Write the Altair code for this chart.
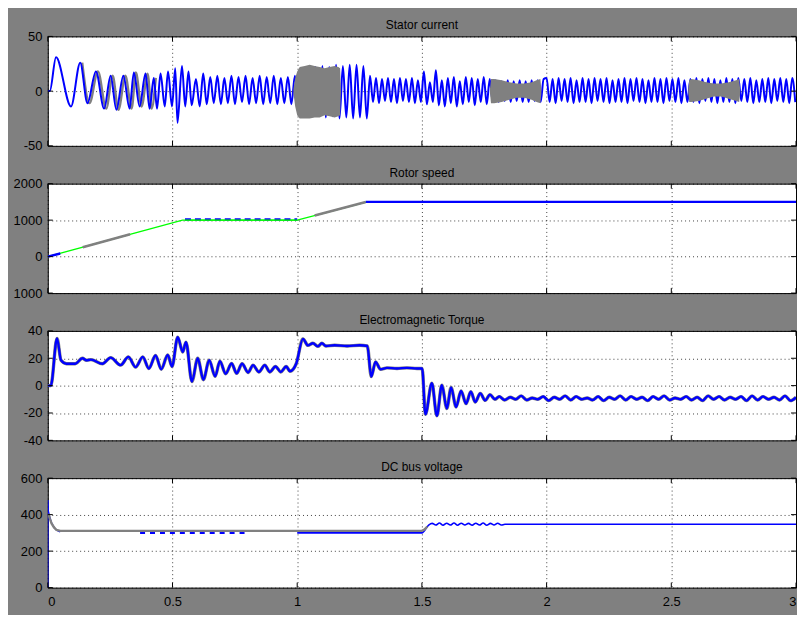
import altair as alt
import numpy as np
import pandas as pd

# ---------------- axes ----------------
X_TICKS = [0, 0.5, 1, 1.5, 2, 2.5, 3]
TITLES = ["Stator current", "Rotor speed", "Electromagnetic Torque", "DC bus voltage"]
YT_I = [-50, 0, 50]
YT_W = [-1000, 0, 1000, 2000]
YT_T = [-40, -20, 0, 20, 40]
YT_V = [0, 200, 400, 600]

# ---------------- stator current ----------------
# start-up: extremum times and values
IA_T = [0, 0.008, 0.033, 0.093, 0.130, 0.159, 0.193, 0.226, 0.252, 0.275, 0.303, 0.328, 0.345, 0.368,
        0.392, 0.408, 0.425, 0.438, 0.452, 0.469, 0.482, 0.498, 0.511, 0.52, 0.538, 0.551, 0.564, 0.577, 0.594]
IA_V = [0, 0, 31, -14, 26, -11, 18, -16, 14, -17, 14, -16, 17, -14, 16, -16, 12, -16, 16, -14,
        18, -14, 21, -29, 23, -14, 18, -13, 11]
# later sections: time span of the extrema, then the extremum values
IC_SPAN = (0.609, 1.005)
IC_V = [-14, 16, -12, 13, -11, 14, -12, 12, -11, 14, -12, 13, -10, 14, -12, 12, -11, 14, -12, 13,
        -11, 14, -12, 12, -11, 13, -12, 14, -12]
ID_SPAN = (1.019, 1.279)
ID_V = [18, -16, 21, -20, 22, -22, 23, -24, 22, -23, 24, -25, 23, -24, 24, -25, 24, -24, 23, -25]
IE_SPAN = (1.292, 1.496)
IE_V = [14, -10, 12, -11, 11, -9, 12, -10, 11, -11, 12, -9, 11, -10, 12, -11, 10, -10]
IF_SPAN = (1.508, 1.784)
IF_V = [18, -12, 8, -10, 19, -13, 10, -14, 12, -11, 13, -14, 9, -12, 13, -10, 12, -13, 11, -10,
        13, -12, 11, -10]
IG_SPAN = (1.796, 1.988)
IG_V = [10, -10, 9, -9, 10, -10, 9, -9, 10, -10, 9, -10, 10, -9, 10, -10, 11]
IH_SPAN = (2.0, 2.997)
IH_V = [12, -10, 11, -11, 12, -9, 11, -10, 12, -11,
        10, -10, 12, -10, 11, -11, 12, -9, 11, -10,
        12, -11, 10, -10, 11, -10, 12, -11, 11, -9,
        12, -10, 11, -11, 10, -10, 12, -10, 11, -11,
        12, -9, 11, -10, 12, -11, 10, -10, 11, -10,
        12, -11, 11, -9, 12, -10, 11, -11, 10, -10,
        12, -10, 11, -11, 12, -9, 11, -10, 12, -11,
        10, -10, 11, -10, 12, -11, 11, -9, 12, -10,
        11, -11, 12, -10]
# gray bands (second trace) : times, upper and lower envelope
G1_T = [0.985, 0.992, 1.0, 1.01, 1.03, 1.05, 1.07, 1.09, 1.11, 1.13, 1.15, 1.165, 1.172, 1.175]
G1_HI = [2, 12, 18, 22, 23, 24, 23, 22, 21, 22, 23, 22, 21, 2]
G1_LO = [-2, -14, -22, -25, -25, -25, -24, -24, -22, -23, -24, -23, -22, -2]
G2_T = [1.773, 1.777, 1.79, 1.82, 1.85, 1.88, 1.91, 1.94, 1.96, 1.975, 1.979]
G2_HI = [2, 11, 11, 10, 8, 7, 7, 8, 10, 11, 2]
G2_LO = [-2, -11, -11, -10, -8, -6, -6, -8, -10, -11, -2]
G3_T = [2.568, 2.572, 2.58, 2.61, 2.64, 2.67, 2.70, 2.73, 2.76, 2.772, 2.776]
G3_HI = [2, 10, 11, 10, 8, 7, 7, 8, 10, 11, 2]
G3_LO = [-2, -10, -10, -9, -7, -5, -5, -7, -9, -10, -2]

# ---------------- rotor speed ----------------
WR_T = [0, 0.54, 1.0, 1.28, 3.0]
WR_V = [0, 1000, 1000, 1500, 1500]
WA1_T = [0, 0.05]
WA1_V = [0, 85]
WA2_T = [0.55, 1.0]
WA2_V = [1020, 1020]
WA3_T = [1.275, 3.0]
WA3_V = [1500, 1500]
WG1_T = [0.14, 0.33]
WG1_V = [259, 611]
WG2_T = [1.07, 1.275]
WG2_V = [1125, 1500]

# ---------------- torque ----------------
TE_T = [0, 0.012, 0.037, 0.053, 0.075, 0.11, 0.139, 0.155, 0.173, 0.219, 0.252, 0.292, 0.323, 0.352,
        0.381, 0.405, 0.432, 0.455, 0.481, 0.498, 0.521, 0.541, 0.554, 0.578, 0.601, 0.624, 0.647,
        0.671, 0.690, 0.713, 0.737, 0.757, 0.779, 0.803, 0.823, 0.846, 0.870, 0.890, 0.913, 0.934,
        0.956, 0.971, 0.996, 1.023, 1.043, 1.063, 1.083, 1.099, 1.115, 1.15, 1.2, 1.25, 1.281,
        1.297, 1.314, 1.334, 1.36, 1.40, 1.44, 1.48, 1.501, 1.514, 1.54, 1.56, 1.58, 1.60, 1.617,
        1.637, 1.657, 1.677, 1.696, 1.714, 1.734, 1.754, 1.773, 1.793]
TE_V = [0, 0, 34.5, 18.5, 16, 16, 20, 18.5, 19, 16, 20.5, 15, 21, 13.5,
        21, 12.5, 22, 12, 22.5, 14, 35.4, 24.6, 31.8, 3, 20, 4.3, 18.6,
        6.8, 17.9, 8.7, 16.2, 9.0, 16, 9.6, 15, 10, 15, 10, 14, 10,
        14, 10.5, 16, 34.2, 29.4, 31, 28.7, 31, 29, 29.5, 29, 29.5, 29,
        6.6, 17.4, 12, 13, 12.5, 13, 12.5, 12.6, -21, 1.8, -22, 0.3, -16.7, -1.4,
        -15.6, -3.8, -13.2, -4.5, -12, -5.7, -10.8, -6.6, -10]
TR_SPAN = (1.81, 3.0)
TR_V = [-8, -10.5, -8.5, -10, -7.5, -10.5, -9, -10, -8, -11, -8.5, -10, -7.5, -10.5, -8, -10, -9,
        -10.5, -8, -11, -8.5, -10, -7.5, -10.5, -8, -10, -8.5, -11, -8, -10, -7.5, -10.5, -9, -10,
        -8, -10.5, -8.5, -11, -7.5, -10, -8, -10.5, -8.5, -10, -8, -11, -7.5, -10.5, -8, -10, -8.5,
        -10.5, -7.5, -11, -8.5]

# ---------------- DC bus ----------------
VB1_T = [0, 0.0005, 0.002, 0.008, 0.015, 0.025, 0.035, 0.05]
VB1_V = [0, 480, 420, 385, 355, 330, 315, 305]
VB2_T = [0.37, 0.80]          # dashed visible part
VB2_V = [300, 300]
VB3_T = [1.0, 1.5, 1.527]
VB3_V = [300, 300, 343]
VR_SPAN = (1.541, 1.833)
VR_V = [352, 343, 354, 342, 353, 343, 354, 342, 353, 343, 352, 342, 353, 343, 354, 342, 352, 343,
        353, 343, 347]
VB4_T = [1.833, 3.0]
VB4_V = [347, 347]
VG_T = [0.003, 0.008, 0.015, 0.025, 0.035, 0.05, 1.5, 1.51, 1.522]
VG_V = [405, 380, 352, 330, 316, 311, 311, 318, 335]

# ---------------- building ----------------
BLUE = "#0000ff"
GRAY = "#808080"
GREEN = "#00ff00"
W, H = 752, 110


def df_of(ts, vs, part="a"):
    return pd.DataFrame({"t": list(ts), "v": list(vs), "part": part, "i": range(len(ts))})


def zig(span, vals, part):
    ts = np.linspace(span[0], span[1], len(vals))
    return df_of(ts, vals, part)


def X(bottom):
    ax = alt.Axis(values=X_TICKS, grid=True, labels=bottom, ticks=False, domain=False, title=None,
                  labelExpr="toString(datum.value)", labelPadding=8, labelFlush=True)
    return alt.X("t:Q", scale=alt.Scale(domain=[0, 3], nice=False, zero=False), axis=ax)


def Y(ticks, dom, expr="toString(datum.value)", field="v"):
    ax = alt.Axis(values=ticks, grid=True, ticks=False, domain=False, title=None,
                  labelPadding=6, labelExpr=expr)
    return alt.Y(field + ":Q", scale=alt.Scale(domain=dom, nice=False, zero=False), axis=ax)


def line(df, color, width, x, y, dash=None, interp="linear"):
    kw = dict(color=color, strokeWidth=width, clip=True, interpolate=interp)
    if dash is not None:
        kw["strokeDash"] = dash
    return alt.Chart(df).mark_line(**kw).encode(x=x, y=y, detail="part:N", order="i:Q")


def tick_layers(x, y, yticks):
    xt = pd.DataFrame({"t": X_TICKS})
    yt = pd.DataFrame({"v": yticks})
    return [
        alt.Chart(xt).mark_rule(color="black").encode(x=x, y=alt.value(0), y2=alt.value(5)),
        alt.Chart(xt).mark_rule(color="black").encode(x=x, y=alt.value(H - 5), y2=alt.value(H)),
        alt.Chart(yt).mark_rule(color="black").encode(y=y, x=alt.value(0), x2=alt.value(5)),
        alt.Chart(yt).mark_rule(color="black").encode(y=y, x=alt.value(W - 5), x2=alt.value(W)),
    ]


def band(ts, hi, lo, x, yticks, dom):
    d = pd.DataFrame({"t": ts, "lo": lo, "hi": hi})
    return alt.Chart(d).mark_area(color=GRAY, clip=True, opacity=1).encode(
        x=x, y=Y(yticks, dom, field="lo"), y2="hi:Q")


def titled(layers, title):
    return alt.layer(*layers).properties(
        width=W, height=H,
        title=alt.TitleParams(text=title, fontSize=12, fontWeight="normal", font="Liberation Sans",
                              color="black", anchor="middle", offset=-2))


# panel 1
x1 = X(False)
y1 = Y(YT_I, [-50, 50])
steady = pd.concat([zig(IC_SPAN, IC_V, "c"), zig(ID_SPAN, ID_V, "d"),
                    zig(IE_SPAN, IE_V, "e"), zig(IF_SPAN, IF_V, "f"), zig(IG_SPAN, IG_V, "g"),
                    zig(IH_SPAN, IH_V, "h")], ignore_index=True)
current = pd.concat([df_of(IA_T, IA_V, "a"), steady], ignore_index=True)
current["part"] = "all"
current["i"] = range(len(current))
shadow = df_of([t + 0.008 for t in IA_T if 0.12 <= t <= 0.43],
               [v for t, v in zip(IA_T, IA_V) if 0.12 <= t <= 0.43], "s")
p1 = titled([
    line(shadow, GRAY, 2.4, x1, y1, interp="monotone"),
    line(current, BLUE, 2.0, x1, y1, interp="monotone"),
    band(G1_T, G1_HI, G1_LO, x1, YT_I, [-50, 50]),
    band(G2_T, G2_HI, G2_LO, x1, YT_I, [-50, 50]),
    band(G3_T, G3_HI, G3_LO, x1, YT_I, [-50, 50]),
] + tick_layers(x1, y1, YT_I), TITLES[0])

# panel 2
x2 = X(False)
y2 = Y(YT_W, [-1000, 2000], expr="datum.value == -1000 ? '1000' : toString(datum.value)")
p2 = titled([
    line(df_of(WR_T, WR_V), GREEN, 1.4, x2, y2),
    line(pd.concat([df_of(WG1_T, WG1_V, "g1"), df_of(WG2_T, WG2_V, "g2")]), GRAY, 2.6, x2, y2),
    line(pd.concat([df_of(WA1_T, WA1_V, "a1"), df_of(WA3_T, WA3_V, "a3")]), BLUE, 2.4, x2, y2),
    line(df_of(WA2_T, WA2_V, "a2"), BLUE, 2.4, x2, y2, dash=[6, 4]),
    line(df_of([0.55, 1.0], [1000, 1000], "r2"), GREEN, 1.2, x2, y2),
] + tick_layers(x2, y2, YT_W), TITLES[1])

# panel 3
x3 = X(False)
y3 = Y(YT_T, [-40, 40])
torque = pd.concat([df_of(TE_T, TE_V, "a"), zig(TR_SPAN, TR_V, "b")], ignore_index=True)
torque["part"] = "all"
torque["i"] = range(len(torque))
p3 = titled([
    line(torque, GRAY, 3.4, x3, y3, interp="monotone"),
    line(torque, BLUE, 2.4, x3, y3, interp="monotone"),
] + tick_layers(x3, y3, YT_T), TITLES[2])

# panel 4
x4 = X(True)
y4 = Y(YT_V, [0, 600])
blue_v = pd.concat([df_of(VB3_T, VB3_V, "b3"), zig(VR_SPAN, VR_V, "r"), df_of(VB4_T, VB4_V, "b4")],
                   ignore_index=True)
blue_v["part"] = "tail"
blue_v["i"] = range(len(blue_v))
p4 = titled([
    line(df_of(VB1_T, VB1_V, "b1"), BLUE, 1.4, x4, y4),
    line(df_of(VB2_T, VB2_V, "b2"), BLUE, 2.2, x4, y4, dash=[5, 5]),
    line(blue_v, BLUE, 1.6, x4, y4, interp="monotone"),
    line(df_of(VG_T, VG_V, "g"), GRAY, 2.4, x4, y4),
] + tick_layers(x4, y4, YT_V), TITLES[3])

chart = alt.vconcat(p1, p2, p3, p4, spacing=38, bounds="flush").properties(
    background=GRAY,
    padding={"left": 4, "top": 9, "right": 0, "bottom": 4},
).configure_view(fill="white", stroke="black", strokeWidth=1).configure_axis(
    labelFont="Liberation Sans", labelFontSize=13, labelColor="black",
    gridColor="black", gridDash=[1, 3], gridOpacity=0.75, gridWidth=1,
)

chart.save("out.html", embed_options={"renderer": "svg", "actions": False})
